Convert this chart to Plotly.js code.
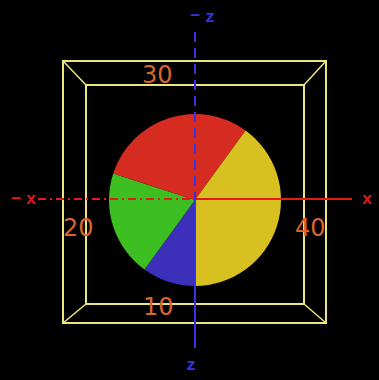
<!DOCTYPE html>
<html>
<head>
<meta charset="utf-8">
<script src="https://cdn.plot.ly/plotly-3.0.1.min.js"></script>
<style>html,body{margin:0;padding:0;background:#000;}#chart{width:379px;height:380px;}</style>
</head>
<body>
<div id="chart"></div>
<script>
var labels = ["10", "20", "30", "40"];
var values = [10, 20, 30, 40];
var sliceColors = ["#3c2fba", "#3dbf22", "#d52b21", "#d7c020"];
var labelText = ["10", "20", "30", "40"];
var labelX = [158, 78, 157, 310];
var labelY = [307, 228, 75, 228];

var W = 379, H = 380;
var cx = 195, cy = 200, r = 86;

var pie = {
  type: "pie",
  labels: labels,
  values: values,
  sort: false,
  direction: "clockwise",
  rotation: 180,
  marker: {colors: sliceColors, line: {width: 0}},
  textinfo: "none",
  hoverinfo: "none",
  showlegend: false,
  domain: {x: [(cx - r) / W, (cx + r) / W], y: [1 - (cy + r) / H, 1 - (cy - r) / H]}
};

var boxColor = "#ece47e";
var red = "#e41a1a", blue = "#3434e6";
function seg(x0, y0, x1, y1, color, width, dash) {
  return {type: "line", xref: "x", yref: "y", x0: x0, y0: y0, x1: x1, y1: y1,
    line: {color: color, width: width, dash: dash || "solid"}, layer: "above"};
}
var shapes = [
  {type: "rect", xref: "x", yref: "y", x0: 63, y0: 61, x1: 326, y1: 323, line: {color: boxColor, width: 2}, layer: "below"},
  {type: "rect", xref: "x", yref: "y", x0: 86, y0: 85, x1: 304, y1: 304, line: {color: boxColor, width: 2}, layer: "below"},
  seg(63, 61, 86, 85, boxColor, 1.5),
  seg(326, 61, 304, 85, boxColor, 1.5),
  seg(63, 323, 86, 304, boxColor, 1.5),
  seg(326, 323, 304, 304, boxColor, 1.5),
  seg(38, 199, 195, 199, red, 2, "8px,4px,2px,4px"),
  seg(195, 199, 352, 199, red, 2),
  seg(195, 32, 195, 199, blue, 2, "10px,6px"),
  seg(195, 199, 195, 348, blue, 2)
];

var annotations = [];
for (var i = 0; i < labelText.length; i++) {
  annotations.push({xref: "x", yref: "y", x: labelX[i], y: labelY[i], text: labelText[i],
    showarrow: false, xanchor: "center", yanchor: "middle",
    font: {family: "DejaVu Sans", size: 24, color: "#d8662a"}});
}
var axisLabels = [
  {t: "\u2212", x: 16, y: 199, c: red},
  {t: "x", x: 31, y: 199, c: red},
  {t: "x", x: 367, y: 199, c: red},
  {t: "\u2212", x: 194.5, y: 16, c: blue},
  {t: "z", x: 209.5, y: 17, c: blue},
  {t: "z", x: 191, y: 365, c: blue}
];
axisLabels.forEach(function (a) {
  annotations.push({xref: "x", yref: "y", x: a.x, y: a.y, text: "<b>" + a.t + "</b>",
    showarrow: false, xanchor: "center", yanchor: "middle",
    font: {family: "Liberation Mono", size: 17, color: a.c}});
});

var layout = {
  width: W, height: H,
  margin: {l: 0, r: 0, t: 0, b: 0},
  paper_bgcolor: "#000", plot_bgcolor: "rgba(0,0,0,0)",
  xaxis: {range: [0, W], visible: false, fixedrange: true},
  yaxis: {range: [H, 0], visible: false, fixedrange: true},
  shapes: shapes,
  annotations: annotations,
  showlegend: false
};

Plotly.newPlot("chart", [pie], layout, {staticPlot: true, displayModeBar: false});
</script>
</body>
</html>
